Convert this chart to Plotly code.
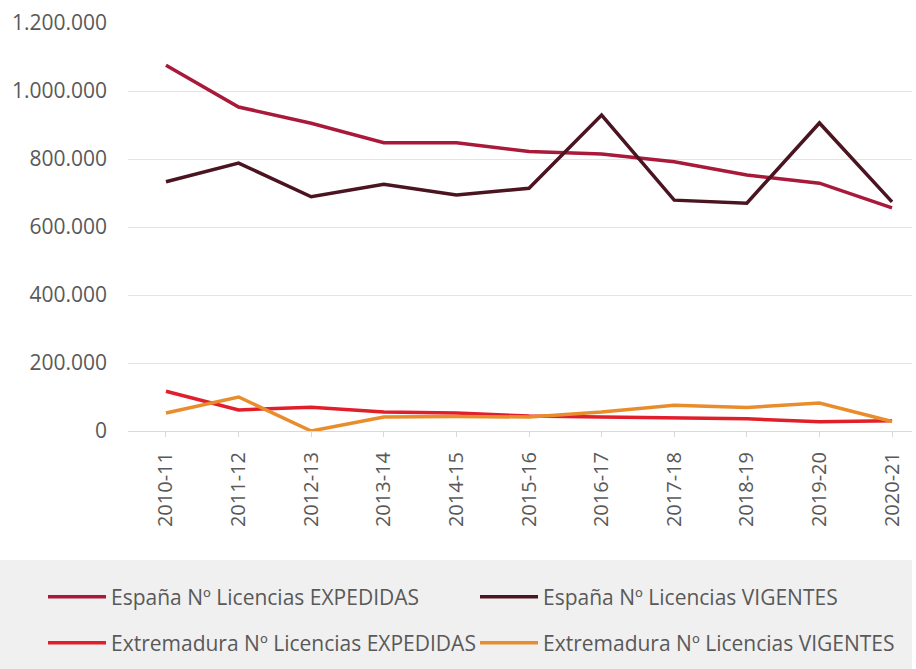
import plotly.graph_objects as go

temporadas = ["2010-11", "2011-12", "2012-13", "2013-14", "2014-15", "2015-16",
              "2016-17", "2017-18", "2018-19", "2019-20", "2020-21"]

espana_expedidas = [1076000, 953000, 905000, 848000, 848000, 822000,
                    815000, 792000, 753000, 729000, 656000]
espana_vigentes = [733000, 788000, 689000, 726000, 694000, 714000,
                   929000, 679000, 670000, 906000, 674000]
extremadura_expedidas = [117000, 62000, 70000, 56000, 53000, 44000,
                         41000, 38000, 36000, 27000, 30000]
extremadura_vigentes = [53000, 100000, 0, 41000, 43000, 41000,
                        56000, 76000, 69000, 82000, 28000]

series = [
    ("España Nº Licencias EXPEDIDAS", espana_expedidas, "#a8193a", "legend"),
    ("España Nº Licencias VIGENTES", espana_vigentes, "#4a1521", "legend"),
    ("Extremadura Nº Licencias EXPEDIDAS", extremadura_expedidas, "#e11f2b", "legend2"),
    ("Extremadura Nº Licencias VIGENTES", extremadura_vigentes, "#e98d2c", "legend2"),
]

fig = go.Figure()
for name, vals, color, leg in series:
    fig.add_trace(go.Scatter(x=list(range(len(temporadas))), y=vals, name=name,
                             mode="lines", line=dict(color=color, width=3.5),
                             legend=leg))

# plot area: x 128..912, y 23..431 in pixels
W, H = 916, 669
L, R, T, B = 128, 4, 23, 238
pw, ph = W - L - R, H - T - B


def px_x(p):
    return (p - L) / pw


def px_y(p):
    return (H - B - p) / ph


# grey band behind the legend
fig.add_shape(type="rect", xref="paper", yref="paper",
              x0=px_x(0), x1=px_x(912), y0=px_y(669), y1=px_y(560),
              fillcolor="#f0f0f0", line_width=0, layer="below")

# item spacing = entrywidth + itemwidth + 15 -> 432 px
legend_style = dict(orientation="h", x=px_x(43), xanchor="left", yanchor="middle",
                    entrywidth=359, entrywidthmode="pixels",
                    bgcolor="rgba(0,0,0,0)", itemwidth=58,
                    font=dict(family="Open Sans", size=21, color="#595959"))

fig.update_layout(
    width=W, height=H,
    margin=dict(l=L, r=R, t=T, b=B, autoexpand=False),
    paper_bgcolor="white", plot_bgcolor="white",
    font=dict(family="Open Sans", size=13, color="#595959"),
    separators=",.",
    showlegend=True,
    legend=dict(legend_style, y=px_y(597)),
    legend2=dict(legend_style, y=px_y(643)),
    xaxis=dict(tickmode="array", tickvals=list(range(len(temporadas))),
               ticktext=temporadas, tickangle=-90, range=[-0.523, 10.275],
               showgrid=False, zeroline=False, showline=False, automargin=False,
               ticks="outside", ticklen=5, tickcolor="#d9d9d9",
               ticklabelstandoff=7,
               tickfont=dict(family="Open Sans", size=20, color="#595959")),
    yaxis=dict(range=[0, 1200000], dtick=200000, tickformat=",d",
               showgrid=True, gridcolor="#e4e4e4", gridwidth=1, automargin=False,
               zeroline=True, zerolinecolor="#d9d9d9", zerolinewidth=1,
               ticks="", ticklabelstandoff=20,
               tickfont=dict(family="Open Sans", size=21, color="#595959")),
)

# the page body has an 8px default margin; drop it so the figure fills the window
fig.write_html("out.html", config={"displayModeBar": False},
               post_script="document.body.style.margin='0';")
